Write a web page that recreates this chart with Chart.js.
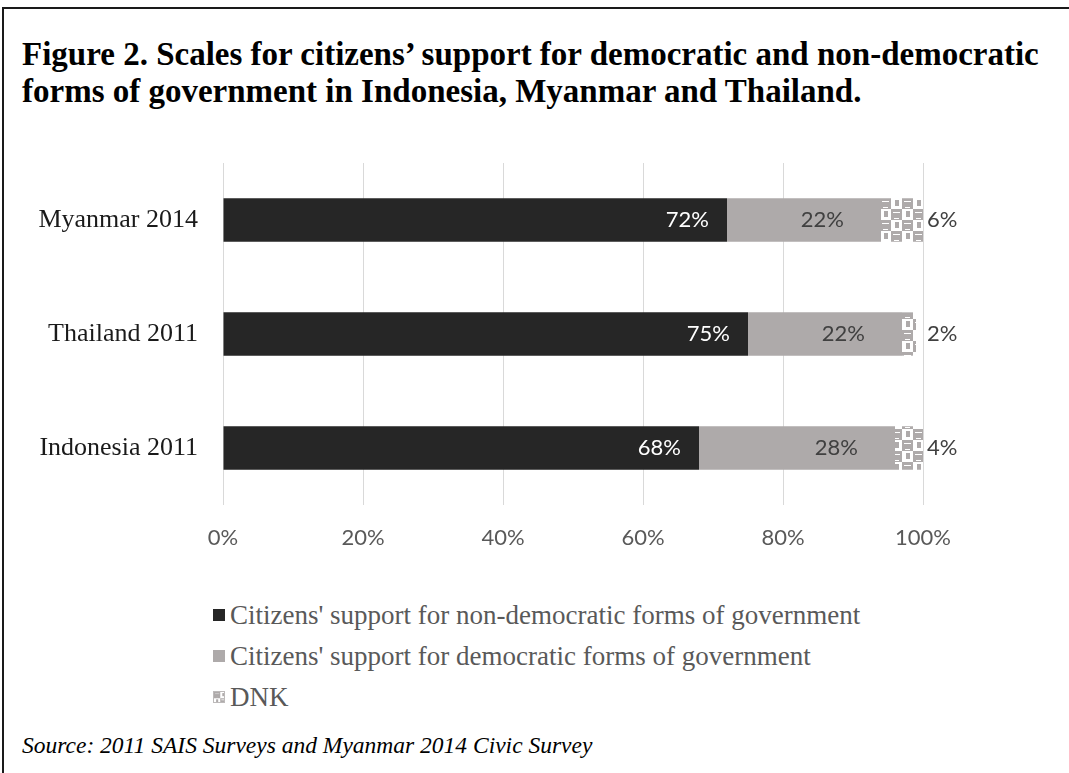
<!DOCTYPE html>
<html>
<head>
<meta charset="utf-8">
<script src="https://cdn.jsdelivr.net/npm/chart.js@4.4.1/dist/chart.umd.min.js"></script>
<style>
  html, body { margin:0; padding:0; background:#fff; }
  body { width:1069px; height:773px; position:relative; overflow:hidden; }
  #frame { position:absolute; left:2px; top:7px; width:1067px; height:766px; border-left:2px solid #1a1a1a; border-top:2px solid #1a1a1a; box-sizing:border-box; }
  #title { position:absolute; left:22px; top:36px; font-family:"Liberation Serif", serif; font-weight:bold; font-size:33px; line-height:37px; color:#000; white-space:nowrap; }
  #chartbox { position:absolute; left:0; top:0; width:1069px; height:560px; }
  #legend { position:absolute; left:213px; top:594px; font-family:"Liberation Serif", serif; font-size:27px; color:#595959; }
  #legend .row { height:41px; line-height:36px; display:flex; align-items:center; white-space:nowrap; }
  #legend .sw { width:12px; height:12px; margin-right:5px; display:inline-block; box-sizing:border-box; }
  #source { position:absolute; left:22px; top:730px; font-family:"Liberation Serif", serif; font-style:italic; font-size:23.5px; line-height:30px; color:#000; white-space:nowrap; }
</style>
</head>
<body>
<div id="frame"></div>
<div id="title">Figure 2. Scales for citizens’ support for democratic and non-democratic<br>forms of government in Indonesia, Myanmar and Thailand.</div>
<div id="chartbox"><canvas id="c" width="1069" height="560"></canvas></div>
<div id="legend"></div>
<div id="source">Source: 2011 SAIS Surveys and Myanmar 2014 Civic Survey</div>
<script>
const categories = ["Myanmar 2014", "Thailand 2011", "Indonesia 2011"];
const nonDemocratic = [72, 75, 68];
const democratic = [22, 22, 28];
const dnk = [6, 2, 4];
const seriesNames = ["Citizens' support for non-democratic forms of government", "Citizens' support for democratic forms of government", "DNK"];
const xTicks = [0, 20, 40, 60, 80, 100];

function makePatternCanvas() {
  const t = document.createElement('canvas');
  t.width = 22; t.height = 22;
  const g = t.getContext('2d');
  g.fillStyle = '#ffffff'; g.fillRect(0,0,22,22);
  g.fillStyle = '#aeaaaa';
  g.fillRect(0,0,11,11); g.fillRect(11,11,11,11);
  g.fillRect(4,13,4,6); g.fillRect(15,2,4,6);
  g.fillStyle = '#ffffff';
  g.fillRect(2,3,7,1); g.fillRect(13,14,7,1);
  g.fillRect(3,9,5,1); g.fillRect(14,20,5,1);
  return t;
}
const patCanvas = makePatternCanvas();
const dnkPattern = patCanvas.getContext('2d').createPattern(patCanvas, 'repeat');
const colors = ['#262626', '#aeaaaa', dnkPattern];

const labelPlugin = {
  id: 'barLabels',
  afterDatasetsDraw(chart) {
    const ctx = chart.ctx;
    ctx.save();
    ctx.font = '22px Lato, "Open Sans", sans-serif';
    ctx.textBaseline = 'middle';
    const xs = chart.scales.x;
    chart.data.datasets.forEach((ds, di) => {
      const meta = chart.getDatasetMeta(di);
      meta.data.forEach((el, i) => {
        const v = ds.data[i];
        const txt = v + '%';
        if (di === 0) {
          ctx.fillStyle = '#ffffff'; ctx.textAlign = 'right';
          ctx.fillText(txt, el.x - 18, el.y);
        } else if (di === 1) {
          ctx.fillStyle = '#404040'; ctx.textAlign = 'right';
          ctx.fillText(txt, el.x - 37, el.y);
        } else {
          ctx.fillStyle = '#404040'; ctx.textAlign = 'left';
          ctx.fillText(txt, xs.getPixelForValue(100) + 4, el.y);
        }
      });
    });
    ctx.restore();
  }
};

new Chart(document.getElementById('c'), {
  type: 'bar',
  data: {
    labels: categories,
    datasets: [
      { label: seriesNames[0], data: nonDemocratic, backgroundColor: colors[0], borderWidth: 0 },
      { label: seriesNames[1], data: democratic, backgroundColor: colors[1], borderWidth: 0 },
      { label: seriesNames[2], data: dnk, backgroundColor: colors[2], borderWidth: 0 }
    ]
  },
  options: {
    indexAxis: 'y',
    responsive: false,
    animation: false,
    devicePixelRatio: 1,
    categoryPercentage: 1,
    barPercentage: 0.38,
    layout: { padding: { top: 163, right: 146, left: 0, bottom: 0 } },
    plugins: { legend: { display: false }, tooltip: { enabled: false } },
    scales: {
      x: {
        stacked: true, min: 0, max: 100,
        afterBuildTicks: s => { s.ticks = xTicks.map(v => ({ value: v })); },
        afterFit: s => { s.height = 55; },
        grid: { color: '#d9d9d9', lineWidth: 1, drawTicks: false },
        border: { display: false },
        ticks: { padding: 20, color: '#595959', font: { family: 'Lato, "Open Sans", sans-serif', size: 22 }, callback: v => v + '%' }
      },
      y: {
        stacked: true,
        afterFit: s => { s.width = 223; },
        grid: { display: false, drawTicks: false },
        border: { display: false },
        ticks: { padding: 25, color: '#1a1a1a', font: { family: '"Liberation Serif", serif', size: 26 } }
      }
    }
  },
  plugins: [labelPlugin]
});

// legend
const lg = document.getElementById('legend');
seriesNames.forEach((name, i) => {
  const row = document.createElement('div'); row.className = 'row';
  const sw = document.createElement('span'); sw.className = 'sw';
  if (i === 2) {
    sw.style.backgroundImage = 'url(' + patCanvas.toDataURL() + ')';
    sw.style.backgroundSize = '12px 12px';
    sw.style.border = '1px solid #bdbaba';
  } else {
    sw.style.background = colors[i];
  }
  const tx = document.createElement('span'); tx.textContent = name;
  row.appendChild(sw); row.appendChild(tx); lg.appendChild(row);
});
</script>
</body>
</html>
